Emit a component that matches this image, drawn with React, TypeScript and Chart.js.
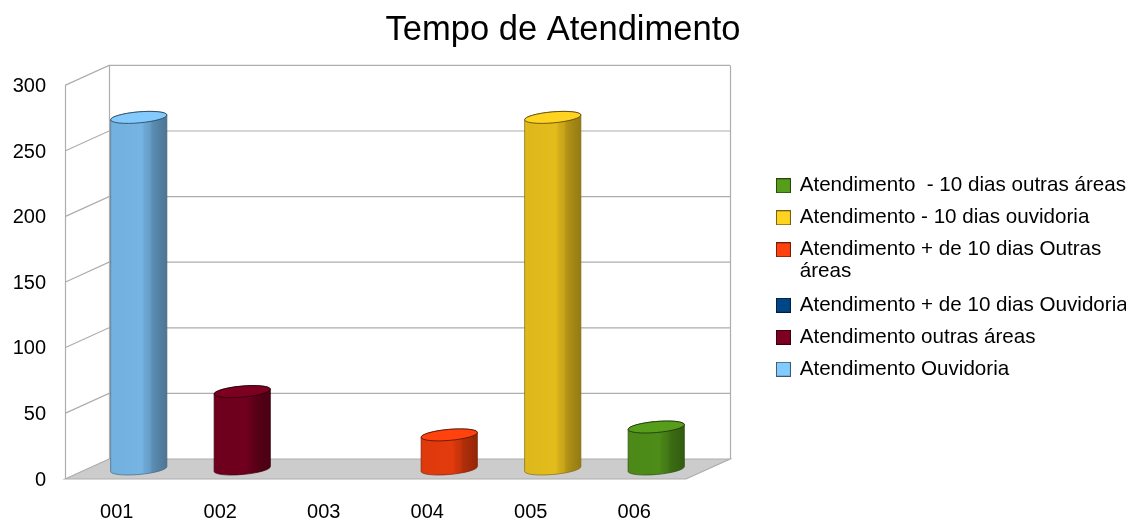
import React, { useEffect, useRef } from "react";
import { Chart, registerables, BarController, BarElement } from "chart.js";

Chart.register(...registerables);

const chartTitle = "Tempo de Atendimento";
const categories = ["001", "002", "003", "004", "005", "006"];
const values = [268, 59, 0, 26, 268, 32];
const barColors = ["#83caff", "#7e0021", "#004586", "#ff420e", "#ffd320", "#579d1c"];
const legendLabels: (string | string[])[] = [
  "Atendimento  - 10 dias outras áreas",
  "Atendimento - 10 dias ouvidoria",
  ["Atendimento + de 10 dias Outras", "áreas"],
  "Atendimento + de 10 dias Ouvidoria",
  "Atendimento outras áreas",
  "Atendimento Ouvidoria",
];
const legendColors = ["#579d1c", "#ffd320", "#ff420e", "#004586", "#7e0021", "#83caff"];

const FONT = "'Liberation Sans', Arial, sans-serif";
const DEPTH_X = 44;
const DEPTH_Y = 20;
const WALL = "#adadad";
const FLOOR = "#cccccc";

function shade(hex: string, f: number) {
  const n = parseInt(hex.slice(1), 16);
  const r = Math.round(((n >> 16) & 255) * f);
  const g = Math.round(((n >> 8) & 255) * f);
  const b = Math.round((n & 255) * f);
  return `rgb(${r},${g},${b})`;
}

class CylinderElement extends BarElement {
  static id = "cylinder";
  draw(ctx: CanvasRenderingContext2D) {
    const { x, y, base, width } = (this as any).getProps(["x", "y", "base", "width"], true);
    const color = (this as any).options.backgroundColor as string;
    if (Math.abs(base - y) < 0.5) return;
    const cx = x + DEPTH_X / 2;
    const top = y - DEPTH_Y / 2;
    const bottom = base - DEPTH_Y / 2;
    const rx = width / 2;
    const ry = 5.5;
    const rot = (-5 * Math.PI) / 180;
    const grad = ctx.createLinearGradient(cx - rx, 0, cx + rx, 0);
    grad.addColorStop(0, shade(color, 0.87));
    grad.addColorStop(0.56, shade(color, 0.89));
    grad.addColorStop(0.6, shade(color, 0.83));
    grad.addColorStop(0.7, shade(color, 0.78));
    grad.addColorStop(0.74, shade(color, 0.7));
    grad.addColorStop(0.82, shade(color, 0.66));
    grad.addColorStop(1, shade(color, 0.58));
    ctx.save();
    ctx.beginPath();
    ctx.ellipse(cx, bottom, rx, ry, rot, 0, Math.PI, false);
    ctx.ellipse(cx, top, rx, ry, rot, Math.PI, 0, false);
    ctx.closePath();
    ctx.fillStyle = grad;
    ctx.fill();
    ctx.lineWidth = 0.7;
    ctx.strokeStyle = shade(color, 0.5);
    ctx.stroke();
    ctx.beginPath();
    ctx.ellipse(cx, top, rx, ry, rot, 0, Math.PI * 2);
    ctx.fillStyle = color;
    ctx.fill();
    ctx.lineWidth = 0.8;
    ctx.strokeStyle = shade(color, 0.3);
    ctx.stroke();
    ctx.restore();
  }
}

class CylinderController extends BarController {
  static id = "cylinder";
  static defaults = { ...(BarController as any).defaults, dataElementType: "cylinder" };
}

Chart.register(CylinderElement as any, CylinderController as any);

function legendSwatch(color: string) {
  const c = document.createElement("canvas");
  c.width = 15;
  c.height = 15;
  const g = c.getContext("2d")!;
  g.fillStyle = color;
  g.fillRect(0, 0, 15, 15);
  g.strokeStyle = shade(color, 0.45);
  g.lineWidth = 1;
  g.strokeRect(0.5, 0.5, 14, 14);
  return c;
}

const walls3d = {
  id: "walls3d",
  beforeDatasetsDraw(chart: any) {
    const { ctx, chartArea: a, scales } = chart;
    const { left: l, right: r, top: t, bottom: b } = a;
    ctx.save();
    ctx.lineWidth = 1.2;
    ctx.strokeStyle = WALL;
    ctx.beginPath();
    ctx.moveTo(l, b);
    ctx.lineTo(l + DEPTH_X, b - DEPTH_Y);
    ctx.lineTo(r + DEPTH_X, b - DEPTH_Y);
    ctx.lineTo(r, b);
    ctx.closePath();
    ctx.fillStyle = FLOOR;
    ctx.fill();
    ctx.stroke();
    ctx.beginPath();
    ctx.moveTo(l + 0.5, b);
    ctx.lineTo(l + 0.5, t);
    ctx.moveTo(l + DEPTH_X + 0.5, b - DEPTH_Y);
    ctx.lineTo(l + DEPTH_X + 0.5, t - DEPTH_Y);
    ctx.moveTo(r + DEPTH_X + 0.5, b - DEPTH_Y);
    ctx.lineTo(r + DEPTH_X + 0.5, t - DEPTH_Y);
    for (const tick of scales.y.ticks) {
      if (tick.value === 0) continue;
      const py = scales.y.getPixelForValue(tick.value);
      ctx.moveTo(l, py);
      ctx.lineTo(l + DEPTH_X, py - DEPTH_Y);
      ctx.lineTo(r + DEPTH_X, py - DEPTH_Y);
    }
    ctx.stroke();
    ctx.restore();
  },
};

export default function App() {
  const ref = useRef<HTMLCanvasElement>(null);
  useEffect(() => {
    const chart = new Chart(ref.current!, {
      type: "cylinder" as any,
      data: {
        labels: categories,
        datasets: [
          {
            label: "Tempo de Atendimento",
            data: values,
            backgroundColor: barColors,
            barPercentage: 0.546,
            categoryPercentage: 1,
          } as any,
        ],
      },
      plugins: [walls3d],
      options: {
        animation: false,
        responsive: false,
        layout: { padding: { left: 0, right: 5, top: 0, bottom: 0 } },
        scales: {
          x: {
            type: "category",
            grid: { display: false },
            border: { display: false },
            ticks: { color: "#000", font: { family: FONT, size: 20 }, padding: 13, maxRotation: 0 },
            afterFit: (s: any) => {
              s.height = 41;
            },
          },
          y: {
            type: "linear",
            min: 0,
            max: 300,
            grid: { display: false, drawTicks: false },
            border: { display: false },
            ticks: { stepSize: 50, color: "#000", font: { family: FONT, size: 20 }, padding: 19, labelOffset: 1 },
            afterFit: (s: any) => {
              s.width = 65;
            },
          },
          y2: {
            type: "linear",
            position: "right",
            display: true,
            grid: { display: false, drawTicks: false },
            border: { display: false },
            ticks: { display: false },
            afterFit: (s: any) => {
              s.width = 80;
            },
          },
        } as any,
        plugins: {
          title: {
            display: true,
            text: chartTitle,
            color: "#000",
            font: { family: FONT, size: 34.5, weight: "normal" },
            padding: { top: 10, bottom: 34 },
          },
          tooltip: { enabled: false },
          legend: {
            display: true,
            position: "right",
            maxWidth: 360,
            title: { display: true, text: " ", color: "#000", font: { size: 10 }, padding: { top: 0, bottom: 23 } },
            labels: {
              color: "#000",
              font: { family: FONT, size: 20.6, lineHeight: 1.07 },
              usePointStyle: true,
              boxWidth: 12,
              boxHeight: 15,
              padding: 11.4,
              generateLabels: () =>
                legendLabels.map((text, i) => ({
                  text,
                  fontColor: "#000",
                  pointStyle: legendSwatch(legendColors[i]),
                  fillStyle: legendColors[i],
                  strokeStyle: legendColors[i],
                  lineWidth: 0,
                  hidden: false,
                  datasetIndex: 0,
                })),
            },
          },
        } as any,
      },
    } as any);
    return () => chart.destroy();
  }, []);
  return (
    <div style={{ position: "fixed", left: 0, top: 0, width: 1131, height: 520, background: "#fff" }}>
      <canvas ref={ref} width={1131} height={520} style={{ display: "block" }} />
    </div>
  );
}
